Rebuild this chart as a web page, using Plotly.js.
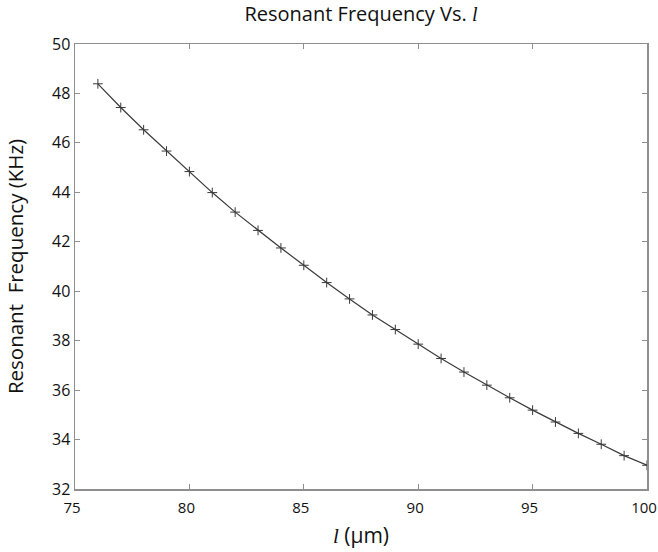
<!DOCTYPE html>
<html>
<head>
<meta charset="utf-8">
<script src="https://cdn.plot.ly/plotly-3.0.1.min.js"></script>
<style>html,body{margin:0;padding:0;background:#fff;}#chart{width:658px;height:552px;}</style>
</head>
<body>
<div id="chart"></div>
<script>
// Length l (micrometres)
const lengthUm = [76, 77, 78, 79, 80, 81, 82, 83, 84, 85, 86, 87, 88, 89, 90, 91, 92, 93, 94, 95, 96, 97, 98, 99, 100];
// Resonant frequency (kHz)
const freqKHz = [48.39, 47.43, 46.53, 45.67, 44.84, 43.99, 43.20, 42.46, 41.75, 41.05, 40.35, 39.69, 39.04, 38.45, 37.86, 37.28, 36.73, 36.20, 35.69, 35.19, 34.71, 34.25, 33.81, 33.35, 32.96];
const xTicks = [75, 80, 85, 90, 95, 100];
const yTicks = [32, 34, 36, 38, 40, 42, 44, 46, 48, 50];

const ell = '<span style="font-family:Liberation Serif;font-style:italic">l</span>';
const font = 'Open Sans, Noto Sans, sans-serif';

const trace = {
  x: lengthUm,
  y: freqKHz,
  type: 'scatter',
  mode: 'lines+markers',
  line: {color: '#3a3a3a', width: 1.2},
  marker: {symbol: 'cross-thin-open', size: 7, line: {color: '#222', width: 1}},
  showlegend: false
};

const axisCommon = {
  showgrid: false,
  zeroline: false,
  showline: true,
  linecolor: '#8f8f8f',
  linewidth: 1.5,
  mirror: 'ticks',
  ticks: 'inside',
  ticklen: 5,
  tickwidth: 1,
  tickcolor: '#8f8f8f',
  ticklabeloverflow: 'allow',
  tickfont: {family: font, size: 16, color: '#111'}
};

const layout = {
  width: 658,
  height: 552,
  paper_bgcolor: '#fff',
  plot_bgcolor: '#fff',
  margin: {l: 75, r: 11, t: 44, b: 63},
  title: {
    text: 'Resonant Frequency Vs. ' + ell,
    font: {family: font, size: 20, color: '#111'},
    x: 0.5, xref: 'paper', xanchor: 'center',
    y: 1, yref: 'container', yanchor: 'top', pad: {t: 7}
  },
  xaxis: Object.assign({}, axisCommon, {
    range: [75, 100],
    tickvals: xTicks,
    ticktext: xTicks.map(String),
    tickfont: {family: font, size: 15, color: '#111'},
    ticklabelstandoff: 4,
    ticklabelshift: -3,
    title: {text: ell + ' (\u03bcm)', font: {family: font, size: 21, color: '#111'}, standoff: 13}
  }),
  yaxis: Object.assign({}, axisCommon, {
    range: [32, 50],
    tickvals: yTicks,
    ticktext: yTicks.map(String),
    title: {text: 'Resonant\u00a0 Frequency (KHz)', font: {family: font, size: 20.5, color: '#111'}, standoff: 23}
  })
};

Plotly.newPlot('chart', [trace], layout, {displayModeBar: false, staticPlot: true});
</script>
</body>
</html>
